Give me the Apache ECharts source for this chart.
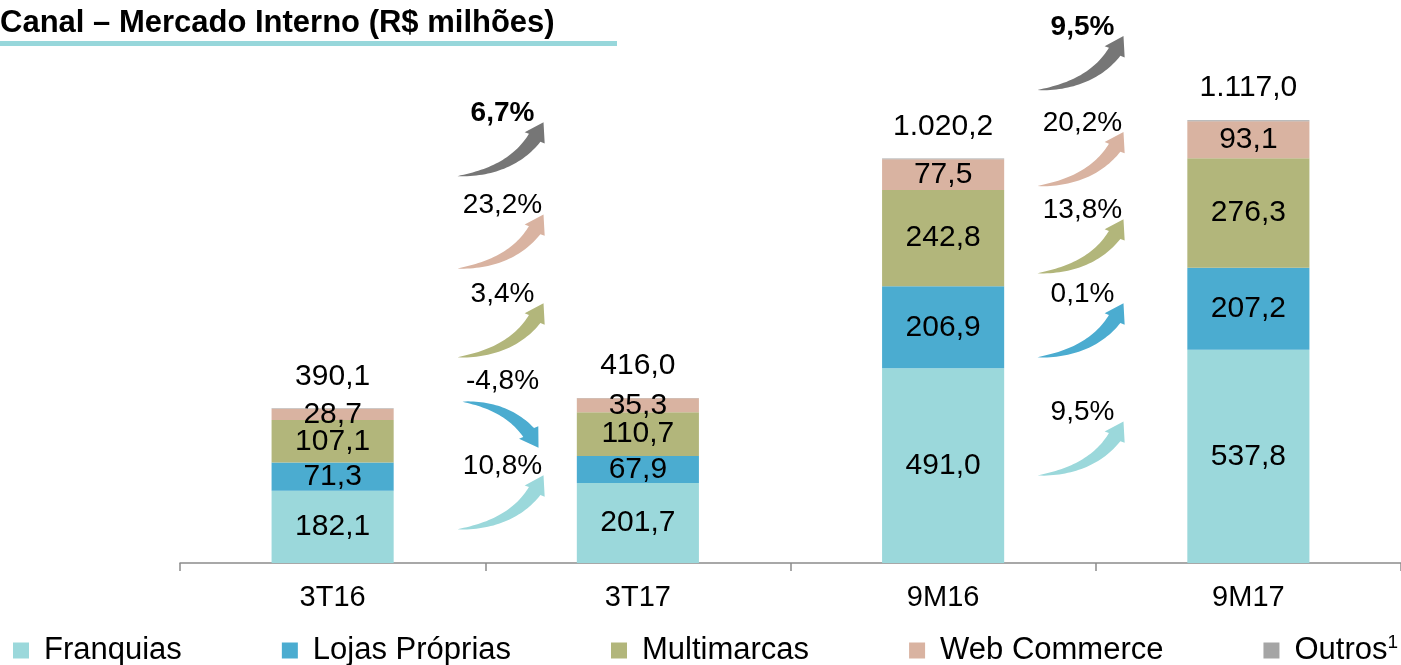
<!DOCTYPE html>
<html>
<head>
<meta charset="utf-8">
<title>Canal – Mercado Interno</title>
<script src="https://cdn.jsdelivr.net/npm/echarts@6/dist/echarts.min.js"></script>
<style>
    html, body { margin: 0; padding: 0; background: #fff; }
    #chart { width: 1401px; height: 665px; }
</style>
</head>
<body>
<div id="chart"></div>
<script>
// dados (R$ milhões)
var categorias = ['3T16', '3T17', '9M16', '9M17'];
var franquias = [182.1, 201.7, 491.0, 537.8];
var lojasProprias = [71.3, 67.9, 206.9, 207.2];
var multimarcas = [107.1, 110.7, 242.8, 276.3];
var webCommerce = [28.7, 35.3, 77.5, 93.1];
var outros = [0.9, 0.4, 2.0, 2.6];
var totais = [390.1, 416.0, 1020.2, 1117.0];

// variação: total, web, multimarcas, lojas, franquias
var variacaoTrimestre = ['6,7%', '23,2%', '3,4%', '-4,8%', '10,8%'];
var variacaoNoveMeses = ['9,5%', '20,2%', '13,8%', '0,1%', '9,5%'];

var cores = {
    franquias: '#9BD8DB',
    lojas: '#4BACD0',
    multi: '#B2B67B',
    web: '#D9B3A1',
    outros: '#A5A5A5',
    seta: '#767676'
};
var FONTE = "'Liberation Sans', Arial, sans-serif";

// altura (em R$ milhões) do centro de cada seta, e posição entre as barras
var alturaSetas = [
    [1044, 811, 587, 349, 153],
    [1261, 1019, 799, 587, 289]
];
var posicaoSetas = [0.55, 0.45];

function fmt(v) {
    var s = v.toFixed(1).split('.');
    s[0] = s[0].replace(/\B(?=(\d{3})+(?!\d))/g, '.');
    return s[0] + ',' + s[1];
}

var setaCores = [cores.seta, cores.web, cores.multi, cores.lojas, cores.franquias];
var setas = [];
var setasData = [];
[variacaoTrimestre, variacaoNoveMeses].forEach(function (lista, g) {
    lista.forEach(function (txt, k) {
        setas.push({
            frac: posicaoSetas[g],
            cor: setaCores[k],
            texto: txt,
            negrito: k === 0,
            desce: txt.charAt(0) === '-'
        });
        setasData.push([g * 2, alturaSetas[g][k]]);
    });
});

function bez(p0, p1, p2, t) {
    var u = 1 - t;
    return [u * u * p0[0] + 2 * u * t * p1[0] + t * t * p2[0],
            u * u * p0[1] + 2 * u * t * p1[1] + t * t * p2[1]];
}

function formaSeta(cx, cy, desce) {
    var w = desce ? 76 : 86, h = desce ? 46 : 54;
    var p0, p2, p1;
    if (desce) {
        p0 = [cx - w / 2, cy - h / 2];
        p2 = [cx + w / 2, cy + h / 2];
        p1 = [p0[0] + 0.72 * w, p0[1] + 0.1 * h];
    } else {
        p0 = [cx - w / 2, cy + h / 2];
        p2 = [cx + w / 2, cy - h / 2];
        p1 = [p0[0] + 0.75 * w, p0[1] - 0.1 * h];
    }
    var N = 40, pts = [], len = [0];
    for (var i = 0; i <= N; i++) {
        pts.push(bez(p0, p1, p2, i / N));
        if (i > 0) {
            var dx = pts[i][0] - pts[i - 1][0], dy = pts[i][1] - pts[i - 1][1];
            len.push(len[i - 1] + Math.sqrt(dx * dx + dy * dy));
        }
    }
    var total = len[N], cabeca = 17, lb = total - cabeca;
    var nb = 0;
    while (nb < N && len[nb + 1] <= lb) nb++;
    var esq = [], dir = [];
    for (i = 0; i <= nb; i++) {
        var a = pts[Math.max(i - 1, 0)], b = pts[Math.min(i + 1, N)];
        var tx = b[0] - a[0], ty = b[1] - a[1], tl = Math.sqrt(tx * tx + ty * ty) || 1;
        var nx = -ty / tl, ny = tx / tl;
        var hw = 7 * Math.pow(len[i] / len[nb], 0.8);
        esq.push([pts[i][0] + nx * hw, pts[i][1] + ny * hw]);
        dir.push([pts[i][0] - nx * hw, pts[i][1] - ny * hw]);
    }
    var B = pts[nb];
    var ddx = p2[0] - B[0], ddy = p2[1] - B[1], dl = Math.sqrt(ddx * ddx + ddy * ddy);
    var hx = -ddy / dl, hy = ddx / dl;
    var poly = esq.slice();
    poly.push([B[0] + hx * 11.5, B[1] + hy * 11.5]);
    poly.push(p2);
    poly.push([B[0] - hx * 11.5, B[1] - hy * 11.5]);
    return poly.concat(dir.reverse());
}

function renderSeta(params, api) {
    var s = setas[params.dataIndex];
    var idx = api.value(0), nivel = api.value(1);
    var a = api.coord([idx, nivel]);
    var b = api.coord([idx + 1, nivel]);
    var cx = a[0] + (b[0] - a[0]) * s.frac;
    var cy = a[1];
    return {
        type: 'group',
        children: [{
            type: 'polygon',
            shape: { points: formaSeta(cx, cy, s.desce) },
            style: { fill: s.cor }
        }, {
            type: 'text',
            style: {
                text: s.texto,
                x: cx + 2,
                y: cy - (s.desce ? 43 : 36),
                align: 'center',
                verticalAlign: 'middle',
                fontSize: 28,
                fontWeight: s.negrito ? 'bold' : 'normal',
                fontFamily: FONTE,
                fill: '#000'
            }
        }]
    };
}

function serieBarra(nome, dados, cor) {
    return {
        name: nome,
        type: 'bar',
        stack: 'total',
        barWidth: '40%',
        data: dados,
        itemStyle: { color: cor },
        label: {
            show: true,
            position: 'inside',
            color: '#000',
            fontSize: 30,
            fontFamily: FONTE,
            formatter: function (p) { return fmt(p.value); }
        }
    };
}

var chart = echarts.init(document.getElementById('chart'));

var option = {
    animation: false,
    title: {
        text: 'Canal – Mercado Interno (R$ milhões)',
        left: -5,
        top: 3,
        textStyle: { fontSize: 31, fontWeight: 'bold', fontFamily: FONTE, color: '#000' }
    },
    graphic: [{
        type: 'rect',
        left: 0,
        top: 41,
        shape: { width: 617, height: 5 },
        style: { fill: '#97D7DB' }
    }],
    legend: {
        data: ['Franquias', 'Lojas Próprias', 'Multimarcas', 'Web Commerce', 'Outros'],
        left: 13,
        top: 633,
        width: 1440,
        padding: 0,
        itemWidth: 16,
        itemHeight: 16,
        itemGap: 100,
        icon: 'rect',
        formatter: function (name) {
            return name === 'Outros' ? 'Outros{sup|1}' : name;
        },
        textStyle: {
            fontSize: 31,
            fontFamily: FONTE,
            color: '#000',
            padding: [0, 0, 0, 10],
            rich: {
                sup: { fontSize: 19, fontFamily: FONTE, color: '#000', verticalAlign: 'top', padding: [0, 0, 16, 0] }
            }
        }
    },
    grid: {
        left: 180,
        right: 0,
        top: 8,
        bottom: 102
    },
    xAxis: {
        type: 'category',
        data: categorias,
        axisLine: { lineStyle: { color: '#8C8C8C', width: 1.5 } },
        axisTick: { show: true, length: 8, lineStyle: { color: '#8C8C8C', width: 1.5 } },
        axisLabel: { fontSize: 29, fontFamily: FONTE, color: '#000', margin: 20 }
    },
    yAxis: {
        type: 'value',
        min: 0,
        max: 1400,
        show: false
    },
    series: [
        serieBarra('Franquias', franquias, cores.franquias),
        serieBarra('Lojas Próprias', lojasProprias, cores.lojas),
        serieBarra('Multimarcas', multimarcas, cores.multi),
        serieBarra('Web Commerce', webCommerce, cores.web),
        {
            name: 'Outros',
            type: 'bar',
            stack: 'total',
            barWidth: '40%',
            data: outros,
            itemStyle: { color: cores.outros },
            label: {
                show: true,
                position: 'top',
                distance: 17,
                color: '#000',
                fontSize: 30,
                fontFamily: FONTE,
                formatter: function (p) { return fmt(totais[p.dataIndex]); }
            }
        },
        {
            name: 'variacao',
            type: 'custom',
            renderItem: renderSeta,
            data: setasData,
            encode: { x: 0, y: 1 },
            z: 5,
            silent: true
        }
    ]
};

chart.setOption(option);
window.addEventListener('resize', function () {
    chart.resize();
});
</script>
</body>
</html>
